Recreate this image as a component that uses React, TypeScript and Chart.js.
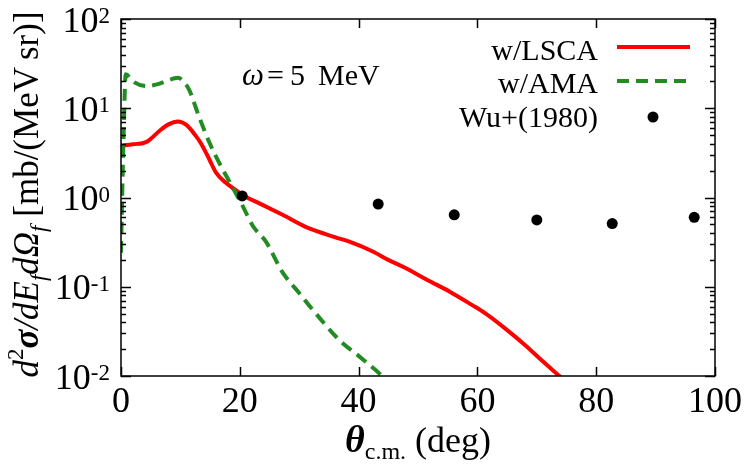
import React, { useEffect, useRef } from "react";
import { Chart, registerables } from "chart.js";

Chart.register(...registerables);

// ---- data ----
const lscaTheta = [0, 2, 4.3, 6.5, 8, 9.6, 11, 12.5, 13.5, 14.9, 16, 17.7, 19.4, 21, 23.3, 27.2, 31.7, 36, 39, 42.3, 45, 47.9, 51.5, 55.5, 59, 61.4, 64.7, 68.1, 70.9, 73.8, 75.5];
const lscaSigma = [3.8, 3.95, 4.2, 5.6, 6.6, 7.1, 6.5, 5.0, 4.0, 2.65, 1.9, 1.45, 1.2, 1.02, 0.86, 0.64, 0.45, 0.36, 0.31, 0.25, 0.2, 0.162, 0.12, 0.087, 0.063, 0.05, 0.034, 0.022, 0.0148, 0.01, 0.0079];

const amaTheta = [0, 0.4, 0.8, 2, 4.3, 6.5, 8.8, 9.6, 10.5, 11.5, 13, 14.9, 16.9, 18.8, 20.5, 22.2, 24.4, 27.2, 30, 32.3, 36.7, 40.1, 43.5, 44.5];
const amaSigma = [0.24, 4, 24, 20, 17.7, 18.9, 21.5, 22, 20, 16, 8.5, 4.1, 2.2, 1.3, 0.8, 0.48, 0.32, 0.145, 0.085, 0.055, 0.0255, 0.0166, 0.0107, 0.0093];

const wuTheta = [20.4, 43.3, 56.1, 70.0, 82.7, 96.5];
const wuSigma = [1.04, 0.845, 0.64, 0.56, 0.51, 0.6];

const xTickValues = [0, 20, 40, 60, 80, 100];
const yDecadeExponents = [-2, -1, 0, 1, 2];
const seriesLabels = ["w/LSCA", "w/AMA", "Wu+(1980)"];

const SERIF = "'Liberation Serif', serif";
const RED = "#ff0000";
const GREEN = "#228b22";
const DASH = [12, 7];

const decor = {
  id: "decor",
  afterDraw(chart: any) {
    const ctx: CanvasRenderingContext2D = chart.ctx;
    const { left, right, top, bottom } = chart.chartArea;
    const xs = chart.scales.x;
    const ys = chart.scales.y;
    ctx.save();
    ctx.strokeStyle = "#000";
    ctx.fillStyle = "#000";
    // frame
    ctx.lineWidth = 1.5;
    ctx.strokeRect(left, top, right - left, bottom - top);
    // x ticks
    ctx.beginPath();
    for (const v of xTickValues) {
      const px = Math.round(xs.getPixelForValue(v)) + 0.5;
      ctx.moveTo(px, bottom);
      ctx.lineTo(px, bottom - 9);
      ctx.moveTo(px, top);
      ctx.lineTo(px, top + 9);
    }
    // y ticks
    for (const e of yDecadeExponents) {
      const py = Math.round(ys.getPixelForValue(Math.pow(10, e))) + 0.5;
      ctx.moveTo(left, py);
      ctx.lineTo(left + 10, py);
      ctx.moveTo(right, py);
      ctx.lineTo(right - 10, py);
      if (e < 2) {
        for (let m = 2; m <= 9; m++) {
          const pm = Math.round(ys.getPixelForValue(m * Math.pow(10, e))) + 0.5;
          ctx.moveTo(left, pm);
          ctx.lineTo(left + 5, pm);
          ctx.moveTo(right, pm);
          ctx.lineTo(right - 5, pm);
        }
      }
    }
    ctx.stroke();

    // y tick labels 10^e
    const labelRight = left - 11;
    for (const e of yDecadeExponents) {
      const py = ys.getPixelForValue(Math.pow(10, e));
      const sup = String(e);
      ctx.font = `23px ${SERIF}`;
      const supW = ctx.measureText(sup).width;
      ctx.textAlign = "left";
      ctx.textBaseline = "alphabetic";
      ctx.fillText(sup, labelRight - supW, py + 4);
      ctx.font = `36px ${SERIF}`;
      ctx.textAlign = "right";
      ctx.fillText("10", labelRight - supW, py + 12.5);
    }

    // y axis title (rotated)
    const F = 35;
    const segs: { t: string; font: string; dy: number }[] = [
      { t: "d", font: `italic ${F}px ${SERIF}`, dy: 0 },
      { t: "2", font: `${Math.round(F * 0.65)}px ${SERIF}`, dy: -F * 0.42 },
      { t: "\u03c3", font: `bold italic ${F}px ${SERIF}`, dy: 0 },
      { t: "/dE", font: `italic ${F}px ${SERIF}`, dy: 0 },
      { t: "f", font: `italic ${Math.round(F * 0.65)}px ${SERIF}`, dy: F * 0.22 },
      { t: "d\u03a9", font: `italic ${F}px ${SERIF}`, dy: 0 },
      { t: "f", font: `italic ${Math.round(F * 0.65)}px ${SERIF}`, dy: F * 0.22 },
      { t: " [mb/(MeV\u2009sr)]", font: `${F}px ${SERIF}`, dy: 0 },
    ];
    let total = 0;
    const widths: number[] = [];
    for (const s of segs) {
      ctx.font = s.font;
      const w = ctx.measureText(s.t).width;
      widths.push(w);
      total += w;
    }
    ctx.save();
    ctx.translate(38, (top + bottom) / 2 - 3);
    ctx.rotate(-Math.PI / 2);
    ctx.textAlign = "left";
    ctx.textBaseline = "alphabetic";
    let u = -total / 2;
    segs.forEach((s, i) => {
      ctx.font = s.font;
      ctx.fillText(s.t, u, s.dy);
      u += widths[i];
    });
    ctx.restore();

    // x axis title
    {
      const base = 452;
      const parts: { t: string; font: string; dy: number }[] = [
        { t: "\u03b8", font: `bold italic 38px ${SERIF}`, dy: 0 },
        { t: "c.m.", font: `24px ${SERIF}`, dy: 7 },
        { t: " (deg)", font: `36px ${SERIF}`, dy: 0 },
      ];
      let tw = 0;
      const ws = parts.map((p) => {
        ctx.font = p.font;
        const w = ctx.measureText(p.t).width;
        tw += w;
        return w;
      });
      let x = (left + right) / 2 - tw / 2;
      ctx.textAlign = "left";
      ctx.textBaseline = "alphabetic";
      parts.forEach((p, i) => {
        ctx.font = p.font;
        ctx.fillText(p.t, x, base + p.dy);
        x += ws[i];
      });
    }

    // annotation
    ctx.textAlign = "left";
    ctx.textBaseline = "alphabetic";
    ctx.font = `italic 31px ${SERIF}`;
    ctx.fillText("\u03c9", 242, 85);
    ctx.font = `30px ${SERIF}`;
    ctx.fillText("=", 267, 85);
    ctx.fillText("5", 290, 85);
    ctx.fillText("MeV", 318, 85);

    // legend
    const legendTextRight = 598;
    const rows = [47, 81, 117];
    const textBase = [60, 93, 127];
    ctx.font = `30px ${SERIF}`;
    ctx.textAlign = "right";
    seriesLabels.forEach((lab, i) => ctx.fillText(lab, legendTextRight, textBase[i]));
    ctx.lineWidth = 4;
    ctx.strokeStyle = RED;
    ctx.beginPath();
    ctx.moveTo(617, rows[0]);
    ctx.lineTo(690, rows[0]);
    ctx.stroke();
    ctx.strokeStyle = GREEN;
    ctx.setLineDash(DASH);
    ctx.beginPath();
    ctx.moveTo(617, rows[1]);
    ctx.lineTo(690, rows[1]);
    ctx.stroke();
    ctx.setLineDash([]);
    ctx.beginPath();
    ctx.arc(653, rows[2], 5.5, 0, Math.PI * 2);
    ctx.fill();
    ctx.restore();
  },
};

export default function App() {
  const ref = useRef<HTMLCanvasElement>(null);
  useEffect(() => {
    const chart = new Chart(ref.current as HTMLCanvasElement, {
      type: "scatter",
      data: {
        datasets: [
          {
            label: seriesLabels[0],
            data: lscaTheta.map((x, i) => ({ x, y: lscaSigma[i] })),
            showLine: true,
            borderColor: RED,
            backgroundColor: RED,
            borderWidth: 4,
            pointRadius: 0,
            cubicInterpolationMode: "monotone",
            order: 2,
          },
          {
            label: seriesLabels[1],
            data: amaTheta.map((x, i) => ({ x, y: amaSigma[i] })),
            showLine: true,
            borderColor: GREEN,
            backgroundColor: GREEN,
            borderWidth: 4,
            borderDash: DASH,
            pointRadius: 0,
            cubicInterpolationMode: "monotone",
            order: 1,
          },
          {
            label: seriesLabels[2],
            data: wuTheta.map((x, i) => ({ x, y: wuSigma[i] })),
            showLine: false,
            pointRadius: 5.5,
            pointBackgroundColor: "#000",
            pointBorderWidth: 0,
            order: 0,
          },
        ],
      } as any,
      options: {
        responsive: false,
        animation: false,
        font: { family: SERIF },
        layout: { padding: { top: 19, right: 30, left: 0, bottom: 0 } },
        plugins: { legend: { display: false }, tooltip: { enabled: false } },
        events: [],
        scales: {
          x: {
            type: "linear",
            min: 0,
            max: 100,
            afterBuildTicks: (s: any) => {
              s.ticks = xTickValues.map((v) => ({ value: v }));
            },
            ticks: {
              font: { family: SERIF, size: 36 },
              color: "#000",
              padding: 5,
              maxRotation: 0,
              autoSkip: false,
            },
            grid: { display: false, drawTicks: false },
            border: { display: false },
            afterFit: (s: any) => {
              s.height = 90;
            },
          },
          y: {
            type: "logarithmic",
            min: 0.01,
            max: 100,
            ticks: { display: false },
            grid: { display: false, drawTicks: false },
            border: { display: false },
            afterFit: (s: any) => {
              s.width = 121;
            },
          },
        },
      } as any,
      plugins: [decor],
    });
    return () => chart.destroy();
  }, []);
  return (
    <div style={{ position: "absolute", left: 0, top: 0, width: 747, height: 466, background: "#fff" }}>
      <canvas ref={ref} width={747} height={466} style={{ display: "block", width: 747, height: 466 }} />
    </div>
  );
}
